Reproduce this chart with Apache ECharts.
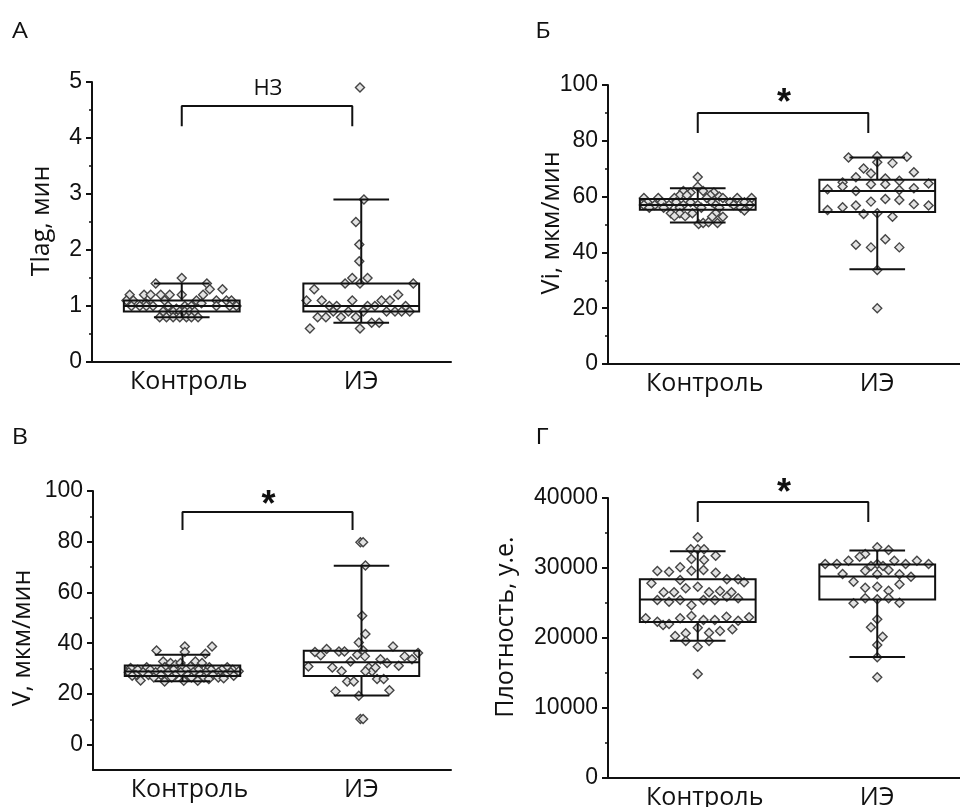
<!DOCTYPE html>
<html><head><meta charset="utf-8">
<script src="https://cdn.jsdelivr.net/npm/echarts@6/dist/echarts.min.js"></script>
<style>html,body{margin:0;padding:0;background:#fff}#c{width:960px;height:807px}</style>
</head><body><div id="c"></div>
<script>
// ---------------- DATA ----------------
const categories = ['Контроль', 'ИЭ'];
const panelLetters = ['А', 'Б', 'В', 'Г'];
const axisTitles = ['Tlag, мин', 'Vi, мкм/мин', 'V, мкм/мин', 'Плотность, у.е.'];
const sigLabels = ['НЗ', '*', '*', '*'];

// box statistics: [lower whisker, Q1, median, Q3, upper whisker]
const tlagStats = [[0.8, 0.9, 1.0, 1.1, 1.4], [0.7, 0.9, 1.0, 1.4, 2.9]];
const viStats = [[50.7, 55.3, 57.0, 59.1, 63.0], [34.0, 54.5, 62.0, 66.0, 74.0]];
const vStats = [[25.0, 27.1, 28.8, 31.2, 35.4], [19.4, 27.1, 32.5, 37.0, 70.5]];
const densStats = [[19600, 22300, 25500, 28400, 32400], [17300, 25500, 28800, 30500, 32500]];

// individual points: [jitter within category band, value]
const tlagCtrl = [[0.00,1.5],[-0.145,1.4],[0.14,1.4],[0.156,1.3],[0.227,1.3],
 [-0.29,1.2],[-0.21,1.2],[-0.173,1.2],[-0.117,1.2],[-0.067,1.2],[0.0,1.2],[0.119,1.2],
 [-0.308,1.1],[-0.27,1.1],[-0.095,1.1],[0.082,1.1],[0.193,1.1],[0.249,1.1],[0.277,1.1],
 [-0.2,1.05],[0.11,1.05],
 [-0.28,1.0],[-0.234,1.0],[-0.197,1.0],[-0.16,1.0],[-0.076,1.0],[0.017,1.0],[0.054,1.0],[0.193,1.0],[0.267,1.0],[0.305,1.0],
 [-0.03,0.95],[0.03,0.95],
 [-0.104,0.9],[-0.048,0.9],[-0.011,0.9],[0.017,0.9],[0.045,0.9],[0.072,0.9],
 [-0.123,0.8],[-0.085,0.8],[-0.048,0.8],[-0.011,0.8],[0.026,0.8],[0.054,0.8],[0.091,0.8]];
const tlagIE = [[-0.007,4.9],[0.015,2.9],[-0.03,2.5],[-0.011,2.1],[-0.011,1.8],[-0.05,1.5],[0.035,1.5],
 [-0.09,1.4],[-0.007,1.4],[0.29,1.4],[-0.262,1.3],[0.206,1.2],
 [-0.305,1.1],[-0.22,1.1],[-0.05,1.1],[0.113,1.1],[0.16,1.1],
 [-0.178,1.0],[-0.137,1.0],[0.035,1.0],[0.076,1.0],[0.247,1.0],
 [-0.156,0.9],[-0.072,0.9],[0.011,0.9],[0.141,0.9],[0.188,0.9],[0.225,0.9],[0.27,0.9],
 [-0.243,0.8],[-0.197,0.8],[-0.113,0.8],[-0.03,0.8],
 [0.058,0.7],[0.1,0.7],[-0.286,0.6],[-0.007,0.6]];

const viCtrl = [[0,67],[0,63.5],[-0.08,62],[-0.04,61.5],[0.03,62],[0.09,61.5],[-0.10,60.5],[-0.06,60.5],[0.07,60.5],[0.12,60],
 [-0.30,59.5],[-0.22,59.5],[-0.13,59.5],[0.05,59.5],[0.14,59.5],[0.22,59.5],[0.30,59.5],
 [-0.28,58],[-0.2,58],[-0.12,58],[-0.04,58],[0.08,58],[0.18,58],[0.26,58],
 [-0.3,57],[-0.24,57],[-0.16,57],[-0.08,57],[0.0,57],[0.1,57],[0.2,57],[0.29,57],
 [-0.27,56],[-0.19,56],[-0.1,56],[0.02,56],[0.12,56],[0.24,56],
 [0.26,55],[-0.15,54],[-0.1,54],[-0.03,54],[0.1,54],[-0.13,53],[-0.07,53],[0.08,52.8],[0.14,52.8],
 [0.005,50.2],[0.03,50.5],[0.06,50.8],[0.11,50.5]];
const viIE = [[-0.16,74],[0,74.5],[0.165,74.3],[0,72.3],[0.085,72],[-0.076,70.1],[-0.035,68.3],[0.204,68.7],
 [-0.119,66.9],[0.045,66.5],[0.123,65.7],[-0.193,65.1],[0.286,64.7],[-0.035,64.4],[0.045,64.4],
 [-0.277,62.6],[-0.193,63.6],[0.123,62.4],[0.204,63],[-0.119,62],[-0.035,58.2],[0.045,59.1],[0.123,58.8],
 [0.204,57.3],[0.286,56.8],[-0.119,56.8],[-0.193,56.2],[-0.277,55.2],[-0.076,53.8],[0.085,52.8],[0,54],
 [-0.119,42.7],[-0.035,41.8],[0.045,44.7],[0.123,41.8],[0,33.7],[0,20]];

const vCtrl = [[-0.145,37.1],[0.013,38.7],[0.013,36.5],[0.165,38.7],[0.128,35.8],
 [-0.108,32.8],[-0.067,32.2],[-0.039,31.5],[-0.011,32.2],[0.072,32.8],[0.109,32.2],[0.045,30.8],
 [-0.2,30.5],[-0.1,30.5],[0.0,30.5],[0.15,30.5],[0.25,30.5],[-0.29,30.2],
 [-0.25,29.5],[-0.18,29.5],[-0.12,29.5],[-0.05,29.5],[0.02,29.5],[0.09,29.5],[0.16,29.5],[0.22,29.5],[0.28,29.5],
 [-0.30,28.5],[-0.22,28.5],[-0.15,28.5],[-0.08,28.5],[-0.01,28.5],[0.06,28.5],[0.13,28.5],[0.2,28.5],[0.27,28.5],[0.314,28.9],
 [-0.26,27.5],[-0.19,27.5],[-0.12,27.5],[-0.04,27.5],[0.03,27.5],[0.1,27.5],[0.17,27.5],[0.24,27.5],
 [-0.281,27.2],[0.286,27.2],
 [-0.16,26.5],[-0.06,26.5],[0.05,26.5],[0.12,26.5],[0.2,26.5],
 [-0.234,25.3],[-0.1,24.9],[0.007,25.2],[0.085,25.2],[0.147,25.9],[0.23,26.2]];
const vIE = [[-0.006,79.8],[0.009,79.8],[0.022,70.6],[0.004,50.8],[0.022,43.6],[-0.015,40.3],[0.009,37.1],
 [-0.297,30.8],[-0.26,36.5],[-0.228,35.2],[-0.195,37.7],[-0.163,30.4],[-0.126,36.7],[-0.095,36.7],[-0.111,28.9],
 [-0.061,32.8],[-0.08,24.9],[-0.043,24.9],[-0.024,35.4],
 [0.019,34.8],[0.041,30.4],[0.059,28.9],[0.078,30.4],[0.022,28.9],[0.106,33.7],[0.143,32.2],[0.087,25.9],[0.124,25.9],
 [0.176,38.7],[0.208,31.1],[0.241,34.8],[0.282,33.7],[0.316,36.1],
 [-0.145,21],[-0.015,19.3],[0.156,21.4],[-0.006,10.1],[0.009,10.1]];

const densCtrl = [[0,34380],[-0.039,32670],[0,32670],[0.035,32670],
 [-0.035,31290],[0.035,31140],[0.1,31760],
 [-0.225,29570],[-0.16,29480],[-0.098,30100],[-0.035,29620],[0.032,29710],[0.1,29330],
 [-0.098,28290],[0.162,28380],[0.225,28380],[0.258,27950],[-0.258,27810],
 [-0.19,26520],[-0.132,26520],[-0.067,27100],[0,27330],[0.063,26520],[0.124,26710],[0.188,26520],[0.162,25900],[0.225,25670],
 [-0.225,25430],[-0.16,25190],[-0.098,25430],[0.032,25430],[0.095,25430],
 [-0.035,24670],
 [-0.29,22810],[-0.225,22330],[-0.193,21860],[-0.16,22000],[-0.098,22810],[-0.035,23140],[0.032,22570],[0.095,22570],
 [0.16,23050],[0.225,22480],[0.286,22950],
 [0,21480],[-0.126,20290],[-0.067,20670],[0.063,20760],[0.124,21000],[0.193,21240],
 [-0.067,19570],[0.063,19570],[0,18760],[0,14860]];
const densIE = [[0,32950],[0.063,32570],[-0.067,32000],[-0.098,31620],[-0.16,31050],
 [-0.29,30570],[-0.225,30570],[0.095,31050],[0.158,30570],[0.221,31050],[0.286,30570],[0,30570],
 [-0.035,30290],[0.032,30290],[0.063,29710],[-0.067,29620],
 [-0.193,29140],[0,29100],[0.124,29100],[0.188,28760],
 [-0.132,28050],[-0.067,27190],[0,27330],[0.124,27670],[0.063,26760],
 [-0.067,25670],[0,25520],[0.063,25670],[-0.132,24950],[0.124,25050],
 [0,22670],[-0.035,21520],[0.03,20190],[0,19000],[0,17240],[0,14380]];

// axis ticks
const tlagTicks = [0, 1, 2, 3, 4, 5];
const tlagMinor = [0.5, 1.5, 2.5, 3.5, 4.5];
const viTicks = [0, 20, 40, 60, 80, 100];
const viMinor = [10, 30, 50, 70, 90];
const vTicks = [0, 20, 40, 60, 80, 100];
const vMinor = [10, 30, 50, 70, 90];
const densTicks = [0, 10000, 20000, 30000, 40000];
const densMinor = [5000, 15000, 25000, 35000];

// ---------------- LAYOUT ----------------
const panels = [
  {stats: tlagStats, ctrl: tlagCtrl, ie: tlagIE, ticks: tlagTicks, minor: tlagMinor, range: [0, 5],
   grid: {left: 92, top: 82, width: 359, height: 280}, title: [42, 221], letter: [20, 32],
   bracket: [4.21, 4.57], sigY: 4.875},
  {stats: viStats, ctrl: viCtrl, ie: viIE, ticks: viTicks, minor: viMinor, range: [0, 100],
   grid: {left: 608, top: 85, width: 359, height: 279}, title: [552, 223], letter: [543, 32],
   bracket: [82.8, 90], sigY: 96.4},
  {stats: vStats, ctrl: vCtrl, ie: vIE, ticks: vTicks, minor: vMinor, range: [-10, 100],
   grid: {left: 93, top: 491, width: 358, height: 279}, title: [23, 638], letter: [20, 438],
   bracket: [84.6, 91.7], sigY: 97.6},
  {stats: densStats, ctrl: densCtrl, ie: densIE, ticks: densTicks, minor: densMinor, range: [0, 40000],
   grid: {left: 608, top: 498, width: 359, height: 280}, title: [506, 627], letter: [542, 438],
   bracket: [36570, 39430], sigY: 41860}
];

const INK = '#111';
const grids = [], xAxes = [], yAxes = [], series = [], graphics = [];

function renderBox(params, api) {
  const cat = api.value(0);
  const lo = api.coord([cat, api.value(1)]);
  const q1 = api.coord([cat, api.value(2)]);
  const med = api.coord([cat, api.value(3)]);
  const q3 = api.coord([cat, api.value(4)]);
  const hi = api.coord([cat, api.value(5)]);
  const band = api.size([1, 0])[0];
  const bw = band * 0.645, cw = band * 0.31, x = lo[0];
  const st = {stroke: INK, lineWidth: 2, fill: null};
  const ln = (x1, y1, x2, y2) => ({type: 'line', shape: {x1, y1, x2, y2}, style: st});
  return {type: 'group', children: [
    ln(x, hi[1], x, q3[1]), ln(x, q1[1], x, lo[1]),
    ln(x - cw / 2, hi[1], x + cw / 2, hi[1]), ln(x - cw / 2, lo[1], x + cw / 2, lo[1]),
    {type: 'rect', shape: {x: x - bw / 2, y: q3[1], width: bw, height: q1[1] - q3[1]}, style: st},
    ln(x - bw / 2, med[1], x + bw / 2, med[1])
  ]};
}

panels.forEach((p, i) => {
  grids.push(Object.assign({containLabel: false, outerBoundsMode: 'none'}, p.grid));
  xAxes.push({type: 'category', gridIndex: i, data: categories, boundaryGap: true,
    axisLine: {onZero: false, lineStyle: {color: INK, width: 2}},
    axisTick: {alignWithLabel: true, interval: 0, length: 5, lineStyle: {color: INK, width: 2}},
    axisLabel: {color: INK, fontSize: 25, fontFamily: 'Open Sans', margin: 7, interval: 0, hideOverlap: false,
      formatter: (v, idx) => idx === 0 ? '{s|' + v + '}' : v,
      rich: {s: {fontSize: 25, fontFamily: 'Open Sans', color: INK, padding: [0, 0, 0, 14]}}},
    splitLine: {show: false}});
  xAxes.push({type: 'value', gridIndex: i, min: 0, max: categories.length, show: false});
  yAxes.push({type: 'value', gridIndex: i, min: p.range[0], max: p.range[1], position: 'left', offset: 0,
    axisLine: {show: true, onZero: false, lineStyle: {color: INK, width: 2}},
    axisTick: {show: true, length: 6, customValues: p.ticks, lineStyle: {color: INK, width: 2}},
    axisLabel: {color: INK, fontSize: 23, fontFamily: 'Liberation Sans', margin: 10, customValues: p.ticks,
      formatter: v => String(v)},
    splitLine: {show: false}});
  yAxes.push({type: 'value', gridIndex: i, min: p.range[0], max: p.range[1], position: 'left', offset: 0,
    axisLine: {show: false}, axisLabel: {show: false}, splitLine: {show: false},
    axisTick: {show: true, length: 3, customValues: p.minor, lineStyle: {color: INK, width: 1.5}}});

  const xi = 2 * i, yi = 2 * i;
  const pts = (arr, c) => arr.map(d => [c + 0.5 + d[0], d[1]]);
  [p.ctrl, p.ie].forEach((arr, c) => series.push({
    type: 'scatter', xAxisIndex: xi + 1, yAxisIndex: yi, data: pts(arr, c), symbol: 'diamond', symbolSize: 9,
    itemStyle: {color: '#e2e2e2', borderColor: '#454545', borderWidth: 1.4, opacity: 1}, z: 2, silent: true}));
  series.push({type: 'custom', xAxisIndex: xi, yAxisIndex: yi, renderItem: renderBox, z: 3, silent: true,
    encode: {x: 0, y: [1, 2, 3, 4, 5]},
    data: p.stats.map((s, c) => [c].concat(s))});
  // significance bracket (annotation) between the two groups
  const bl = 0.5, br = 1.45;
  series.push({type: 'line', xAxisIndex: xi + 1, yAxisIndex: yi, symbol: 'none', silent: true, z: 3,
    lineStyle: {color: INK, width: 2}, clip: false,
    data: [[bl, p.bracket[0]], [bl, p.bracket[1]], [br, p.bracket[1]], [br, p.bracket[0]]]});
  const isStar = sigLabels[i] === '*';
  series.push({type: 'scatter', xAxisIndex: xi + 1, yAxisIndex: yi, symbolSize: 1, silent: true, clip: false,
    itemStyle: {opacity: 0},
    data: [[(bl + br) / 2 + 0.005, p.sigY]],
    label: {show: true, position: 'inside', formatter: sigLabels[i], color: INK, opacity: 1,
      fontSize: isStar ? 36 : 22, fontWeight: isStar ? 'bold' : 'normal',
      fontFamily: isStar ? 'Liberation Sans' : 'Open Sans', offset: isStar ? [0, 9] : [0, 0]}});

  graphics.push({type: 'text', x: p.title[0], y: p.title[1], rotation: Math.PI / 2,
    style: {text: axisTitles[i], fill: INK, font: '25px "Open Sans"', align: 'center', verticalAlign: 'middle'}});
  graphics.push({type: 'text', x: p.letter[0], y: p.letter[1], scaleX: 1.2,
    style: {text: panelLetters[i], fill: INK, font: '21px "Open Sans"', align: 'center', verticalAlign: 'middle'}});
});

const chart = echarts.init(document.getElementById('c'), null, {renderer: 'canvas'});
chart.setOption({animation: false, backgroundColor: '#fff', grid: grids, xAxis: xAxes, yAxis: yAxes, series, graphic: graphics});
</script></body></html>
